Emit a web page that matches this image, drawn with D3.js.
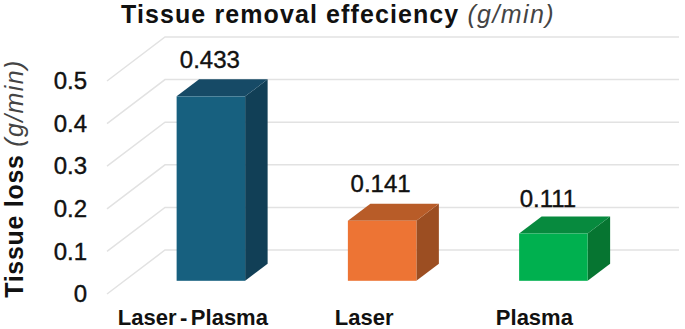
<!DOCTYPE html>
<html>
<head>
<meta charset="utf-8">
<script src="https://cdn.jsdelivr.net/npm/d3@7"></script>
<style>
  html, body { margin: 0; padding: 0; background: #fff; }
  svg { display: block; }
  text { font-family: "Liberation Sans", Arial, sans-serif; fill: #111; }
  .medium { stroke: #111; stroke-width: 0.4px; }
  .unit { font-weight: 400; font-style: italic; fill: #444; letter-spacing: 1.4px; }
</style>
</head>
<body>
<div id="chart"></div>
<script>
const categories = ['Laser-Plasma', 'Laser', 'Plasma'];
const values = [0.433, 0.141, 0.111];
const valueLabels = ['0.433', '0.141', '0.111'];
const yTicks = [0, 0.1, 0.2, 0.3, 0.4, 0.5];
const frontColors = ['#17607f', '#ed7434', '#00b04f'];
const topColors = ['#164a66', '#b85c28', '#078a3e'];
const sideColors = ['#113f56', '#9c4e22', '#067531'];

const width = 685, height = 329;
const floorDx = 58, floorDy = -44;      // wall depth
const barDx = 22.5, barDy = -17;        // bar depth
const barBase = 280.8;

const svg = d3.select('#chart').append('svg')
    .attr('width', width)
    .attr('height', height);

const x = d3.scaleBand().domain(categories).range([125.25, 639]).paddingInner(0.6).paddingOuter(0.3);
const y = d3.scaleLinear().domain([0, 0.5]).range([294, 81]);

// gridlines: front diagonal plus back wall
const grid = svg.append('g').attr('fill', 'none').attr('stroke', '#e2e2e2').attr('stroke-width', 1.5);
grid.selectAll('path')
    .data(yTicks)
    .enter().append('path')
    .attr('d', d => `M107,${y(d)}L${107 + floorDx},${y(d) + floorDy}L679,${y(d) + floorDy}`);

// y axis labels
const yAxis = svg.append('g')
    .attr('transform', 'translate(87,0)')
    .call(d3.axisLeft(y).tickValues(yTicks).tickFormat(d => d === 0 ? '0' : d3.format('.1f')(d)).tickSize(0).tickPadding(0));
yAxis.select('.domain').remove();
yAxis.selectAll('text')
    .attr('class', 'medium')
    .style('font-family', '"Liberation Sans", Arial, sans-serif')
    .style('font-size', '24px')
    .attr('fill', '#111');

// bars
const barHeight = d => y(0) - y(d);
const bars = svg.append('g').selectAll('g')
    .data(categories)
    .enter().append('g');

bars.append('path')
    .attr('fill', (d, i) => sideColors[i])
    .attr('d', (d, i) => {
        const r = x(d) + x.bandwidth(), top = barBase - barHeight(values[i]);
        return `M${r},${top}L${r + barDx},${top + barDy}L${r + barDx},${barBase + barDy}L${r},${barBase}Z`;
    });

bars.append('path')
    .attr('fill', (d, i) => topColors[i])
    .attr('d', (d, i) => {
        const l = x(d), r = l + x.bandwidth(), top = barBase - barHeight(values[i]);
        return `M${l},${top}L${l + barDx},${top + barDy}L${r + barDx},${top + barDy}L${r},${top}Z`;
    });

bars.append('rect')
    .attr('x', d => x(d))
    .attr('width', x.bandwidth())
    .attr('y', (d, i) => barBase - barHeight(values[i]))
    .attr('height', (d, i) => barHeight(values[i]))
    .attr('fill', (d, i) => frontColors[i]);

// value labels
const labelDx = [-1, -1.5, -5.5];
const labelDy = [-28, -28.5, -27];
svg.append('g').selectAll('text')
    .data(valueLabels)
    .enter().append('text')
    .attr('class', 'medium')
    .attr('x', (d, i) => x(categories[i]) + x.bandwidth() / 2 + labelDx[i])
    .attr('y', (d, i) => barBase - barHeight(values[i]) + labelDy[i])
    .attr('text-anchor', 'middle')
    .style('font-size', '24px')
    .text(d => d);

// category labels, the hyphen in the first one sits wide in the original
const catDx = [-18, -18, -19];
const catLabels = svg.append('g').selectAll('text')
    .data(categories)
    .enter().append('text')
    .attr('x', (d, i) => x(d) + x.bandwidth() / 2 + catDx[i])
    .attr('y', 324.5)
    .attr('text-anchor', 'middle')
    .style('font-size', '22px')
    .style('font-weight', 700);

catLabels.each(function(d) {
    const parts = d.split(/(-)/);
    d3.select(this).selectAll('tspan')
        .data(parts)
        .enter().append('tspan')
        .attr('dx', (p, i) => i > 0 ? 3.5 : 0)
        .text(p => p);
});

// title
const title = svg.append('text')
    .attr('x', 338)
    .attr('y', 23)
    .attr('text-anchor', 'middle')
    .style('font-size', '25px')
    .style('font-weight', 700)
    .style('letter-spacing', '1.1px');
title.append('tspan').text('Tissue removal effeciency ');
title.append('tspan').attr('class', 'unit').text('(g/min)');

// y axis title
const yTitle = svg.append('text')
    .attr('transform', 'translate(23,178.5) rotate(-90)')
    .attr('text-anchor', 'middle')
    .style('font-size', '25px')
    .style('font-weight', 700);
yTitle.append('tspan').style('letter-spacing', '0.7px').text('Tissue loss ');
yTitle.append('tspan').attr('class', 'unit').text('(g/min)');
</script>
</body>
</html>
